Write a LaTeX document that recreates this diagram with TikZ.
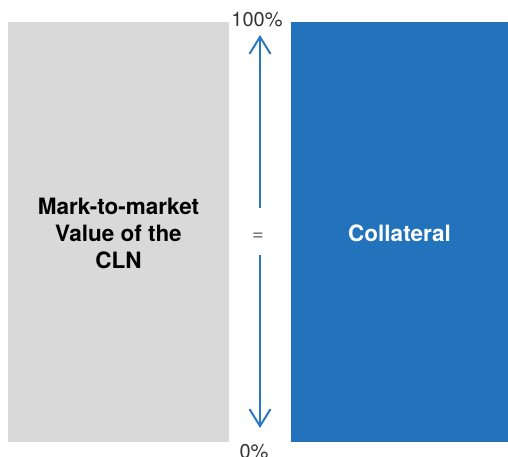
\documentclass[tikz,border=0pt]{standalone}
\usepackage{fontspec}
\setmainfont{TeX Gyre Heros}
\usetikzlibrary{arrows.meta}
\definecolor{boxgray}{HTML}{D9D9D9}
\definecolor{boxblue}{HTML}{2272BC}
\definecolor{arrowblue}{HTML}{2A78C2}
\definecolor{labelgray}{HTML}{333333}
\begin{document}
\begin{tikzpicture}[x=1pt,y=-1pt,
  boxlabel/.style={font=\fontsize{22.5}{27}\selectfont\bfseries, align=center, inner sep=0pt},
  scalelabel/.style={font=\fontsize{20}{22}\selectfont, text=labelgray, inner sep=0pt},
  scalearrow/.style={draw=arrowblue, line width=2pt, -{Straight Barb[length=17pt,width=21pt,line width=2pt]}}
]
\useasboundingbox (0,0) rectangle (508,457);
\fill[boxgray] (8,22) rectangle (229,442);
\fill[boxblue] (291,22) rectangle (508,442);
\node[boxlabel, text=black] (mtm) at (118.5,233) {Mark-to-market\\Value of the\\CLN};
\node[boxlabel, text=white] (coll) at (399.5,233) {Collateral};
\node[scalelabel, anchor=base] (top) at (257,27) {100\%};
\node[scalelabel, anchor=base] (bot) at (254,458) {0\%};
\node[scalelabel, text=black!60] (eq) at (258,237) {=};
\coordinate (upstart) at (260,208);
\coordinate (uptip) at (260,35);
\coordinate (dnstart) at (260,255);
\coordinate (dntip) at (260,428);
\draw[scalearrow] (upstart) -- (uptip);
\draw[scalearrow] (dnstart) -- (dntip);
\end{tikzpicture}
\end{document}
